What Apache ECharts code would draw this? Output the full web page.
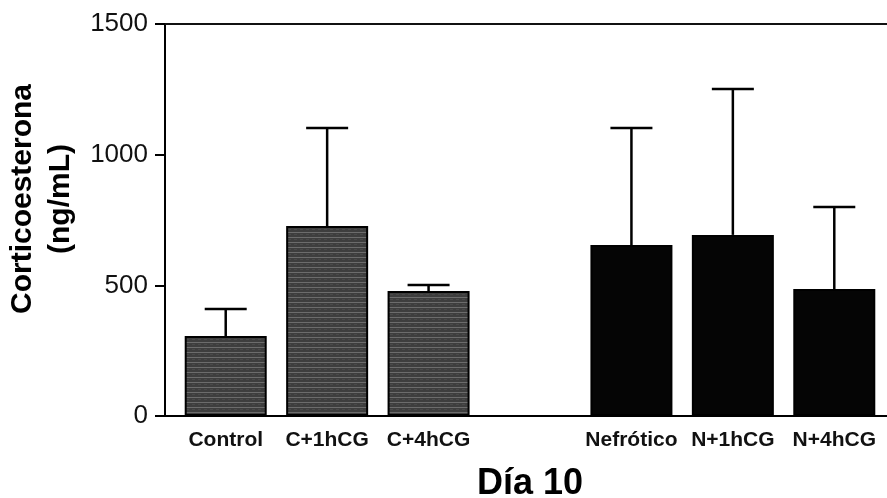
<!DOCTYPE html>
<html>
<head>
<meta charset="utf-8">
<script src="https://cdn.jsdelivr.net/npm/echarts@6/dist/echarts.min.js"></script>
<style>
html,body{margin:0;padding:0;background:#fff;}
#chart{width:887px;height:498px;}
</style>
</head>
<body>
<div id="chart"></div>
<script>
// Data
var categories = ['Control', 'C+1hCG', 'C+4hCG', '', 'Nefrótico', 'N+1hCG', 'N+4hCG'];
var means      = [306, 727, 478, null, 654, 693, 486];
var upperErr   = [409, 1102, 501, null, 1102, 1251, 800];
var groupOf    = ['C', 'C', 'C', null, 'N', 'N', 'N'];
var yTicks     = [0, 500, 1000, 1500];

var FONT = "'Liberation Sans', Arial, Helvetica, sans-serif";

// striped gray pattern for control group
function makePattern() {
  var c = document.createElement('canvas');
  c.width = 6; c.height = 5;
  var ctx = c.getContext('2d');
  ctx.fillStyle = '#3e3e3e';
  ctx.fillRect(0, 0, 6, 5);
  ctx.fillStyle = '#6c6c6c';
  ctx.fillRect(0, 2, 6, 1);
  ctx.fillStyle = '#4a4a4a';
  ctx.fillRect(0, 4, 3, 1);
  return c;
}
var pattern = makePattern();

var barData = means.map(function (v, i) {
  if (v === null) return { value: '-' };
  return {
    value: v,
    itemStyle: groupOf[i] === 'C'
      ? { color: { image: pattern, repeat: 'repeat' }, borderColor: '#000', borderWidth: 2 }
      : { color: '#050505', borderColor: '#000', borderWidth: 2 }
  };
});

var errData = [];
means.forEach(function (v, i) {
  if (v !== null) errData.push([i, v, upperErr[i]]);
});

var chart = echarts.init(document.getElementById('chart'));
chart.setOption({
  animation: false,
  backgroundColor: '#fff',
  grid: [
    { left: 175, right: 2, top: 24, bottom: 82, outerBoundsMode: 'none', containLabel: false },
    { left: 165, right: 0, top: 24, bottom: 82, outerBoundsMode: 'none', containLabel: false }
  ],
  xAxis: [
    {
      type: 'category', gridIndex: 0, data: categories,
      axisLine: { show: false }, axisTick: { show: false },
      axisLabel: { color: '#111', fontFamily: FONT, fontWeight: 'bold', fontSize: 21, margin: 14, interval: 0 },
      name: 'Día 10', nameLocation: 'middle', nameGap: 50,
      nameTextStyle: { color: '#000', fontFamily: FONT, fontWeight: 'bold', fontSize: 36 }
    },
    {
      type: 'value', gridIndex: 1, min: 0, max: 1, position: 'bottom',
      axisLine: { show: true, lineStyle: { color: '#000', width: 2 } },
      axisTick: { show: false }, axisLabel: { show: false }, splitLine: { show: false }
    },
    {
      type: 'value', gridIndex: 1, min: 0, max: 1, position: 'top',
      axisLine: { show: true, lineStyle: { color: '#111', width: 2 } },
      axisTick: { show: false }, axisLabel: { show: false }, splitLine: { show: false }
    }
  ],
  yAxis: [
    {
      type: 'value', gridIndex: 0, min: yTicks[0], max: yTicks[yTicks.length - 1], interval: 500,
      offset: 10,
      axisLine: { show: true, lineStyle: { color: '#000', width: 2 } },
      axisTick: { show: true, inside: false, length: 10, lineStyle: { color: '#000', width: 2 } },
      axisLabel: { color: '#111', fontFamily: FONT, fontSize: 26, margin: 17, formatter: function (v) { return String(v); } },
      splitLine: { show: false },
      name: 'Corticoesterona\n(ng/mL)', nameLocation: 'middle', nameGap: 82,
      nameTextStyle: { color: '#000', fontFamily: FONT, fontWeight: 'bold', fontSize: 30, lineHeight: 38, padding: [0, 0, 0, 42] }
    },
    {
      type: 'value', gridIndex: 1, min: 0, max: 1, show: false
    }
  ],
  series: [
    {
      type: 'bar', xAxisIndex: 0, yAxisIndex: 0, data: barData, barWidth: 82, z: 2
    },
    {
      type: 'custom', xAxisIndex: 0, yAxisIndex: 0, data: errData, z: 3,
      encode: { x: 0, y: [1, 2] },
      renderItem: function (params, api) {
        var i = api.value(0);
        var top = api.coord([i, api.value(2)]);
        var base = api.coord([i, api.value(1)]);
        var half = 21;
        var st = { stroke: '#000', lineWidth: 2.5 };
        return {
          type: 'group',
          children: [
            { type: 'line', shape: { x1: top[0], y1: base[1], x2: top[0], y2: top[1] }, style: st },
            { type: 'line', shape: { x1: top[0] - half, y1: top[1], x2: top[0] + half, y2: top[1] }, style: st }
          ]
        };
      }
    }
  ]
});
</script>
</body>
</html>
